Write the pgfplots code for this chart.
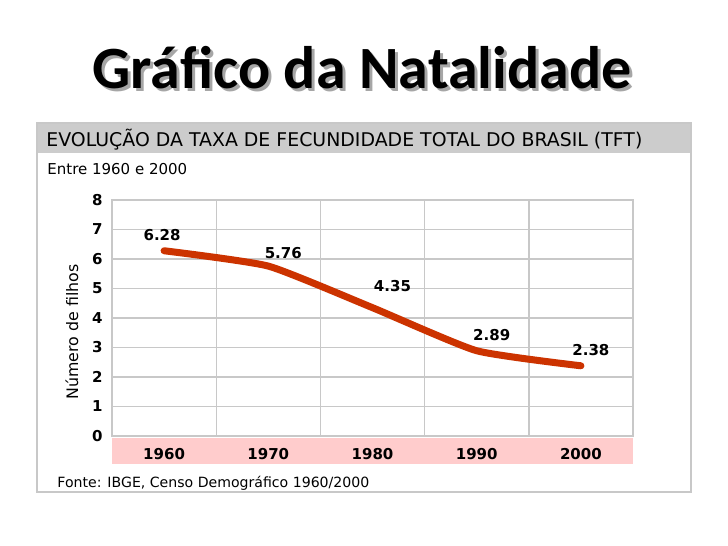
\documentclass[border=0pt]{standalone}
\usepackage{pgfplots}
\pgfplotsset{compat=1.18}
\usepackage{pgfplotstable}
\usepackage{fontspec}
\setmainfont{DejaVu Sans}
\newfontfamily\titlefont{Carlito}
\definecolor{tftline}{RGB}{204,51,0}
\definecolor{gridgray}{RGB}{200,200,200}
\definecolor{headgray}{RGB}{204,204,204}
\definecolor{bandpink}{RGB}{255,204,204}

% total fertility rate, Brazil, census years
\pgfplotstableread{
x y dx dy
0 6.28 -1 5
1 5.76 7.5 4
2 4.35 10 8
3 2.89 7.5 5
4 2.38 5 5
}\tftdata

\begin{document}
\begin{tikzpicture}
% page
\fill[white] (0,0) rectangle (364pt,273pt);
% title with drop shadow
\node[anchor=base, inner sep=0, text=black!35, font=\titlefont\bfseries\fontsize{30}{36}\selectfont] at (182.5pt,227pt) {Gráfico da Natalidade};
\node[anchor=base, inner sep=0, font=\titlefont\bfseries\fontsize{30}{36}\selectfont] at (181pt,228.5pt) {Gráfico da Natalidade};
% panel
\fill[headgray] (18.5pt,196.5pt) rectangle (345.5pt,211.5pt);
\draw[gridgray, line width=0.6pt] (18.5pt,27pt) rectangle (345.5pt,211.5pt);
\node[anchor=base west, inner sep=0, font=\fontsize{9.45}{11}\selectfont] at (23pt,199.5pt) {EVOLUÇÃO DA TAXA DE FECUNDIDADE TOTAL DO BRASIL (TFT)};
\node[anchor=base west, inner sep=0, font=\fontsize{7.5}{9}\selectfont] at (23.5pt,185.5pt) {Entre 1960 e 2000};
\node[anchor=base west, inner sep=0, font=\fontsize{7.05}{9}\selectfont] at (28.5pt,29pt) {Fonte: IBGE, Censo Demográfico 1960/2000};
% band behind the year labels
\fill[bandpink] (56pt,41pt) rectangle (316.5pt,54pt);
% y axis title
\node[rotate=90, inner sep=0, font=\fontsize{7.9}{9}\selectfont] at (36pt,107pt) {Número de filhos};

\begin{axis}[
  at={(56pt,55pt)}, anchor=south west,
  width=260.5pt, height=118pt, scale only axis,
  xmin=-0.5, xmax=4.5, ymin=0, ymax=8,
  xtick={0,...,4}, xticklabels={1960,1970,1980,1990,2000},
  minor xtick={0.5,1.5,2.5,3.5},
  ytick={0,...,8},
  ymajorgrids, xminorgrids,
  major grid style={gridgray, line width=0.7pt},
  minor grid style={gridgray, line width=0.7pt},
  axis line style={gridgray, line width=0.7pt},
  major tick length=0, minor tick length=0,
  tick style={draw=none},
  /pgf/number format/assume math mode=true,
  ticklabel style={font=\bfseries\fontsize{7.5}{9}\selectfont, inner sep=0},
  xticklabel style={anchor=base, yshift=-12pt},
  yticklabel style={anchor=east, xshift=-4.5pt},
  clip=false,
]
\addplot[tftline, line width=3.5pt, line cap=round, line join=round, smooth, tension=0.3,
  nodes near coords={\pgfmathprintnumber[fixed,fixed zerofill,precision=2]{\pgfplotspointmeta}},
  visualization depends on={\thisrow{dx}\as\dx},
  visualization depends on={\thisrow{dy}\as\dy},
  every node near coord/.append style={anchor=base, inner sep=0, xshift=\dx pt, yshift=\dy pt, text=black, font=\bfseries\fontsize{7.5}{9}\selectfont}
] table[x=x,y=y] {\tftdata};
\end{axis}
\end{tikzpicture}
\end{document}
